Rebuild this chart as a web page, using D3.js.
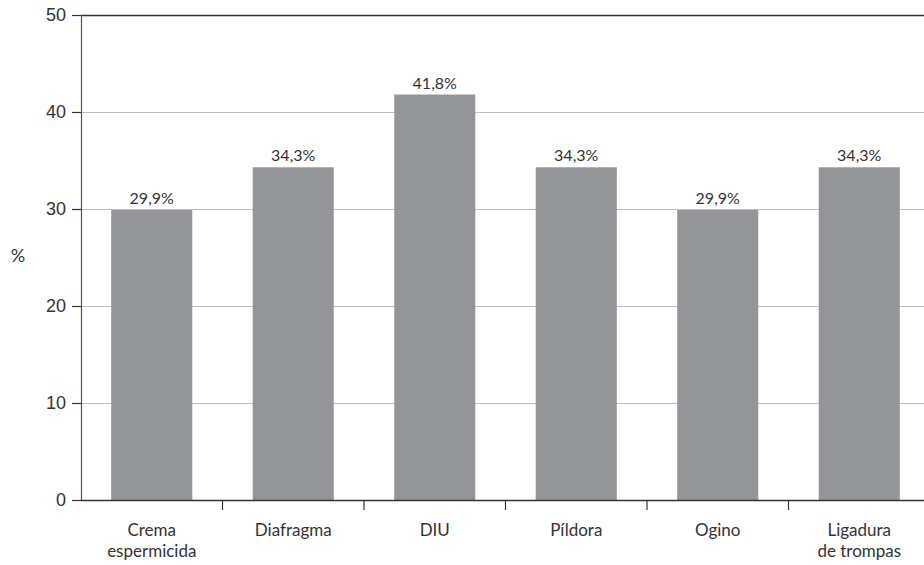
<!DOCTYPE html>
<html>
<head>
<meta charset="utf-8">
<script src="https://cdn.jsdelivr.net/npm/d3@7"></script>
<style>
  body { margin: 0; background: #fff; }
  svg { display: block; font-family: Lato, Roboto, sans-serif; }
</style>
</head>
<body>
<div id="chart"></div>
<script>
const categories = [['Crema', 'espermicida'], ['Diafragma'], ['DIU'], ['Píldora'], ['Ogino'], ['Ligadura', 'de trompas']]
const values = [29.9, 34.3, 41.8, 34.3, 29.9, 34.3]
const valueLabels = ['29,9%', '34,3%', '41,8%', '34,3%', '29,9%', '34,3%']
const yTicks = [0, 10, 20, 30, 40, 50]

const width = 924
const height = 565
const margin = { left: 81, right: -6, top: 15, bottom: 65 }

const svg = d3.select('#chart').append('svg')
  .attr('width', width)
  .attr('height', height)

const keys = categories.map((c, i) => i)
const xScale = d3.scaleBand()
  .domain(keys)
  .range([margin.left, width - margin.right])
  .paddingInner(0.427)
  .paddingOuter(0.2135)

const yScale = d3.scaleLinear()
  .domain([0, 50])
  .range([height - margin.bottom, margin.top])

// gridlines
svg.append('g')
  .selectAll('line')
  .data(yTicks.filter(t => t > 0))
  .join('line')
  .attr('x1', margin.left)
  .attr('x2', width)
  .attr('y1', d => yScale(d) + 0.5)
  .attr('y2', d => yScale(d) + 0.5)
  .attr('stroke', d => d === 50 ? '#333' : '#bcbec0')
  .attr('stroke-width', d => d === 50 ? 1.5 : 1)

// bars
svg.append('g')
  .selectAll('rect')
  .data(values)
  .join('rect')
  .attr('x', (d, i) => xScale(i))
  .attr('y', d => yScale(d))
  .attr('width', xScale.bandwidth())
  .attr('height', d => yScale(0) - yScale(d))
  .attr('fill', '#939598')

// value labels
svg.append('g')
  .selectAll('text')
  .data(values)
  .join('text')
  .attr('x', (d, i) => xScale(i) + xScale.bandwidth() / 2)
  .attr('y', d => yScale(d) - 6)
  .attr('text-anchor', 'middle')
  .attr('font-size', 16)
  .attr('fill', '#333')
  .text((d, i) => valueLabels[i])

// y axis
const yAxis = svg.append('g')
  .attr('transform', `translate(${margin.left},0)`)
  .call(d3.axisLeft(yScale).tickValues(yTicks).tickSize(9).tickPadding(6).tickSizeOuter(0))
yAxis.select('.domain').attr('stroke', '#555').attr('stroke-width', 1.2)
yAxis.selectAll('.tick line').attr('stroke', '#333').attr('stroke-width', 1.2)
yAxis.selectAll('.tick text').attr('font-size', 18).attr('fill', '#333').attr('font-family', null)

// x axis
const bandStep = xScale.step()
const gap = (bandStep - xScale.bandwidth()) / 2
svg.append('line')
  .attr('x1', margin.left)
  .attr('x2', width)
  .attr('y1', yScale(0) + 0.5)
  .attr('y2', yScale(0) + 0.5)
  .attr('stroke', '#333')
  .attr('stroke-width', 1.5)

svg.append('g')
  .selectAll('line')
  .data(keys.slice(1))
  .join('line')
  .attr('x1', d => xScale(d) - gap)
  .attr('x2', d => xScale(d) - gap)
  .attr('y1', yScale(0))
  .attr('y2', yScale(0) + 10)
  .attr('stroke', '#333')
  .attr('stroke-width', 1.2)

const catLabels = svg.append('g')
  .selectAll('text')
  .data(categories)
  .join('text')
  .attr('text-anchor', 'middle')
  .attr('font-size', 17)
  .attr('fill', '#333')
  .attr('transform', (d, i) => `translate(${xScale(i) + xScale.bandwidth() / 2},${yScale(0) + 36})`)

catLabels.selectAll('tspan')
  .data(d => d)
  .join('tspan')
  .attr('x', 0)
  .attr('dy', (d, i) => i === 0 ? 0 : 21)
  .text(d => d)

// y label
svg.append('text')
  .attr('x', 18)
  .attr('y', 262)
  .attr('text-anchor', 'middle')
  .attr('font-size', 18)
  .attr('fill', '#333')
  .text('%')
</script>
</body>
</html>
